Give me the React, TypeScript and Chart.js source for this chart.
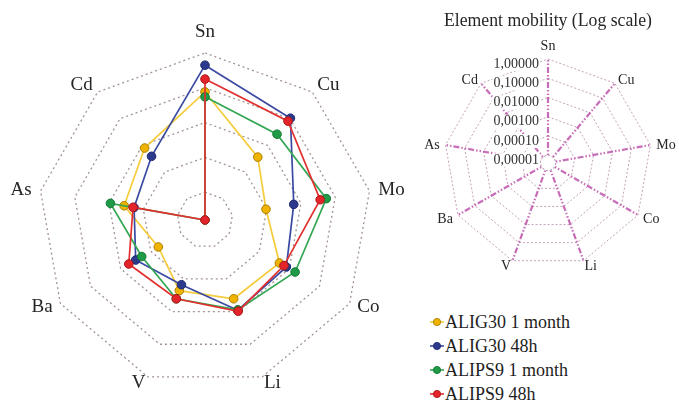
import React, { useEffect, useRef } from "react";
import { Chart, registerables } from "chart.js";

Chart.register(...registerables);

// ---------- data ----------
const elements = ["Sn", "Cu", "Mo", "Co", "Li", "V", "Ba", "As", "Cd"];

// values in the radar's (log) scale units, centre = mainMin
const alig30Month = [3.88, 2.56, 1.98, 2.67, 2.61, 2.36, 1.75, 2.56, 2.9];
const alig30H48 = [4.65, 4.02, 2.79, 2.9, 2.96, 2.18, 2.5, 2.27, 2.59];
const alips9Month = [3.74, 3.42, 3.74, 3.19, 2.95, 2.61, 2.3, 2.96, 0.2];
const alips9H48 = [4.25, 3.91, 3.56, 2.82, 2.99, 2.61, 2.73, 2.3, 0.2];

const seriesNames = ["ALIG30 1 month", "ALIG30 48h", "ALIPS9 1 month", "ALIPS9 48h"];

const mainMin = 0.2;
const mainMax = 5;

// small chart: log10 exponents
const logTickExponents = [-5, -4, -3, -2, -1, 0];
const logMin = -5.4;
const logMax = 0;

const smallTitle = "Element mobility (Log scale)";

// ---------- styles ----------
const SERIF = '"Liberation Serif", "Times New Roman", serif';

const seriesStyles = [
  { line: "#f6cc3c", fill: "#f0b400", border: "#a87d00" },
  { line: "#3a4aa2", fill: "#2c3a8e", border: "#1c2870" },
  { line: "#33a653", fill: "#1f9a46", border: "#157a35" },
  { line: "#e2302f", fill: "#e3242b", border: "#ad1717" },
];
const drawOrder = [4, 3, 2, 1];

function makeLabelsPlugin(
  id: string,
  size: number,
  capHeight: number,
  gapX: number,
  topExtra: number,
  shiftY: number,
  color: string
) {
  return {
    id,
    afterDraw(chart: any) {
      const scale = chart.scales.r;
      if (!scale) return;
      const ctx = chart.ctx;
      ctx.save();
      ctx.font = `${size}px ${SERIF}`;
      ctx.fillStyle = color;
      ctx.textAlign = "center";
      ctx.textBaseline = "middle";
      (chart.data.labels as string[]).forEach((label, i) => {
        const w = ctx.measureText(label).width;
        const a = scale.getIndexAngle(i);
        const s = Math.sin(a);
        const c = Math.cos(a);
        const v = scale.getPointPosition(i, scale.drawingArea);
        const ox = Math.sign(s) * Math.sqrt(Math.abs(s)) * (w / 2 + gapX);
        const oy = (-c * capHeight) / 2 - (c > 0 ? Math.pow(c, 8) * topExtra : 0) + shiftY;
        ctx.fillText(label, v.x + ox, v.y + oy);
      });
      ctx.restore();
    },
  };
}

const logTicksPlugin = {
  id: "logTicks",
  afterDraw(chart: any) {
    const scale = chart.scales.r;
    const ctx = chart.ctx;
    const size = 14;
    ctx.save();
    ctx.font = `${size}px ${SERIF}`;
    ctx.textAlign = "right";
    ctx.textBaseline = "middle";
    logTickExponents.forEach((v) => {
      const text = Math.pow(10, v).toFixed(5).replace(".", ",");
      const y = scale.yCenter - scale.getDistanceFromCenterForValue(v) + 5;
      const x = scale.xCenter - 9;
      const w = ctx.measureText(text).width;
      ctx.fillStyle = "#ffffff";
      ctx.fillRect(x - w - 1, y - size / 2, w + 2, size);
      ctx.fillStyle = "#333333";
      ctx.fillText(text, x, y);
    });
    ctx.restore();
  },
};

const centerDiskPlugin = {
  id: "centerDisk",
  afterDraw(chart: any) {
    const scale = chart.scales.r;
    const ctx = chart.ctx;
    const r = scale.getDistanceFromCenterForValue(logTickExponents[0]);
    ctx.save();
    ctx.fillStyle = "#ffffff";
    ctx.beginPath();
    ctx.arc(scale.xCenter, scale.yCenter, r - 0.8, 0, Math.PI * 2);
    ctx.fill();
    ctx.strokeStyle = "rgba(196,160,186,1)";
    ctx.lineWidth = 1;
    ctx.setLineDash([2, 2]);
    ctx.beginPath();
    ctx.arc(scale.xCenter, scale.yCenter, r, 0, Math.PI * 2);
    ctx.stroke();
    ctx.restore();
  },
};

export default function App() {
  const mainRef = useRef<HTMLCanvasElement>(null);
  const smallRef = useRef<HTMLCanvasElement>(null);

  useEffect(() => {
    const seriesData = [alig30Month, alig30H48, alips9Month, alips9H48];
    const main = new Chart(mainRef.current!, {
      type: "radar",
      data: {
        labels: elements,
        datasets: seriesData.map((d, i) => ({
          label: seriesNames[i],
          data: d,
          order: drawOrder[i],
          fill: false,
          borderColor: seriesStyles[i].line,
          backgroundColor: seriesStyles[i].fill,
          borderWidth: 1.7,
          pointRadius: 4.3,
          pointBorderWidth: 1,
          pointBackgroundColor: seriesStyles[i].fill,
          pointBorderColor: seriesStyles[i].border,
          tension: 0,
        })),
      },
      options: {
        responsive: false,
        animation: false,
        devicePixelRatio: 1,
        layout: { padding: { left: 38, right: 38, top: 53, bottom: 17 } },
        plugins: {
          legend: { display: false },
          tooltip: { enabled: false },
          title: { display: false },
        },
        scales: {
          r: {
            min: mainMin,
            max: mainMax,
            ticks: { display: false, stepSize: 1 },
            pointLabels: { display: false },
            angleLines: { display: false },
            grid: { color: "#a39393", lineWidth: 1.3 },
            border: { dash: [2, 3] },
          },
        },
      } as any,
      plugins: [makeLabelsPlugin("mainLabels", 19, 13, 9, 14, 0, "#262626")],
    });

    const small = new Chart(smallRef.current!, {
      type: "radar",
      data: { labels: elements, datasets: [] },
      options: {
        responsive: false,
        animation: false,
        devicePixelRatio: 1,
        layout: { padding: { left: 34, right: 27, top: 0, bottom: 23 } },
        plugins: {
          legend: { display: false },
          tooltip: { enabled: false },
          title: {
            display: true,
            text: smallTitle,
            color: "#262626",
            font: { family: SERIF, size: 18, weight: "normal", lineHeight: 1.2 },
            padding: { top: 10, bottom: 27.4 },
          },
        },
        scales: {
          r: {
            min: logMin,
            max: logMax,
            ticks: { display: false, stepSize: 1 },
            pointLabels: { display: false },
            grid: { color: "rgba(196,160,186,1)", lineWidth: 1 },
            border: { dash: [2, 2] },
            angleLines: {
              display: true,
              color: "rgba(186,72,166,0.8)",
              lineWidth: 2.2,
              borderDash: [6, 2, 1.5, 2, 1.5, 2],
            },
          },
        },
      } as any,
      plugins: [
        centerDiskPlugin,
        makeLabelsPlugin("smallLabels", 14, 9.5, 6, 9, 1.5, "#262626"),
        logTicksPlugin,
      ],
    });

    return () => {
      main.destroy();
      small.destroy();
    };
  }, []);

  return (
    <div
      style={{
        position: "fixed",
        left: 0,
        top: 0,
        width: 679,
        height: 404,
        background: "#ffffff",
        overflow: "hidden",
      }}
    >
      <canvas ref={mainRef} width={410} height={404} style={{ position: "absolute", left: 0, top: 0 }} />
      <canvas ref={smallRef} width={269} height={290} style={{ position: "absolute", left: 410, top: 0 }} />
      <div
        style={{
          position: "absolute",
          left: 430,
          top: 310,
          font: `18px ${SERIF}`,
          color: "#1e1e1e",
          lineHeight: "24px",
        }}
      >
        {seriesNames.map((name, i) => (
          <div key={name} style={{ display: "flex", alignItems: "center", height: 24 }}>
            <svg width={14} height={10} style={{ marginRight: 1 }}>
              <line x1={0} y1={5} x2={14} y2={5} stroke={seriesStyles[i].line} strokeWidth={1.6} />
              <circle
                cx={7}
                cy={5}
                r={3.6}
                fill={seriesStyles[i].fill}
                stroke={seriesStyles[i].border}
                strokeWidth={0.9}
              />
            </svg>
            <span>{name}</span>
          </div>
        ))}
      </div>
    </div>
  );
}
